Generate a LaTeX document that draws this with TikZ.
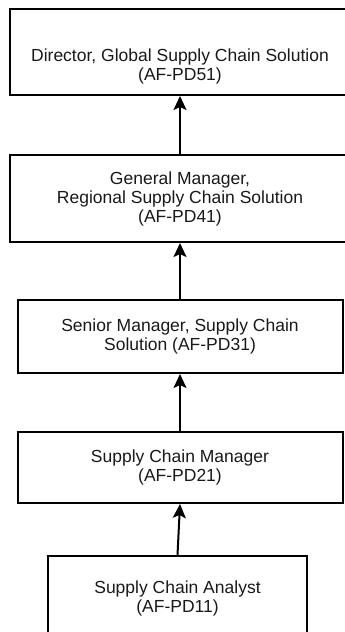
\documentclass[tikz,border=0pt]{standalone}
\usepackage{fontspec}
\setmainfont{Liberation Sans}
\usetikzlibrary{arrows.meta}

\begin{document}
\begin{tikzpicture}[x=1pt, y=1pt,
    post/.style={draw, line width=2pt, align=center, inner sep=0pt,
        font=\fontsize{17.5}{19}\selectfont, text=black!90},
    up/.style={line width=2pt, -{Stealth[length=14pt, width=13pt, inset=3pt]}}]
    \useasboundingbox (0,0) rectangle (345,632);
    \node[post, minimum width=340pt, minimum height=86pt] (pd51) at (180,580) {};
    \node[post, draw=none] (pd51txt) at (180,566) {Director, Global Supply Chain Solution\\(AF-PD51)};
    \node[post, minimum width=340pt, minimum height=87pt] (pd41) at (180,433.5) {General Manager,\\Regional Supply Chain Solution\\(AF-PD41)};
    \node[post, minimum width=325pt, minimum height=73pt] (pd31) at (180,295.5) {Senior Manager, Supply Chain\\Solution (AF-PD31)};
    \node[post, minimum width=325pt, minimum height=71pt] (pd21) at (180,164.5) {Supply Chain Manager\\(AF-PD21)};
    \node[post, minimum width=259pt, minimum height=84pt] (pd11) at (177.5,34) {Supply Chain Analyst\\(AF-PD11)};
    \draw[up] (pd41.north) -- (pd51.south);
    \draw[up] (pd31.north) -- (pd41.south);
    \draw[up] (pd21.north) -- (pd31.south);
    \draw[up] (pd11.north) -- (pd21.south);
\end{tikzpicture}
\end{document}
